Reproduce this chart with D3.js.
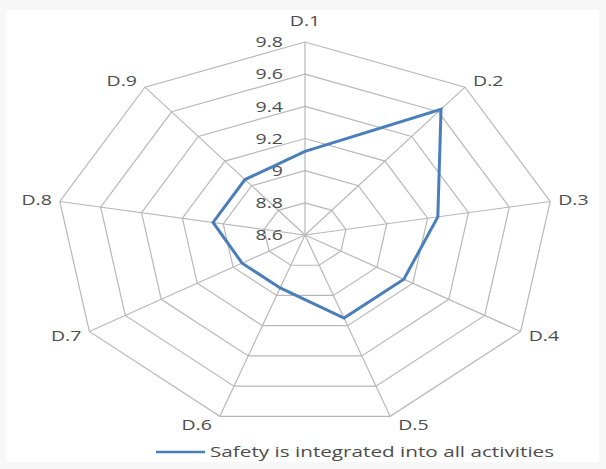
<!DOCTYPE html>
<html>
<head>
<meta charset="utf-8">
<script src="https://cdn.jsdelivr.net/npm/d3@7/dist/d3.min.js"></script>
<style>
  html, body { margin: 0; padding: 0; background: #f7f7f7; }
  svg { display: block; }
  text { font-family: "Open Sans", "DejaVu Sans", sans-serif; fill: #4d4d4d; }
</style>
</head>
<body>
<svg id="chart"></svg>
<script>
// data
const categories = ['D.1', 'D.2', 'D.3', 'D.4', 'D.5', 'D.6', 'D.7', 'D.8', 'D.9'];
const values = [9.12, 9.62, 9.25, 9.15, 9.15, 8.95, 8.95, 9.05, 9.05];
const ticks = [8.6, 8.8, 9.0, 9.2, 9.4, 9.6, 9.8];
const seriesName = 'Safety is integrated into all activities';

const width = 606, height = 469;
const cx = 305, cy = 235;
// the source image is stretched sideways, so the radar is an ellipse
const rx = 249, ry = 193;
const stretch = 1.3;

const svg = d3.select('#chart').attr('width', width).attr('height', height);

svg.append('rect')
  .attr('x', 6).attr('y', 10)
  .attr('width', 593).attr('height', 452)
  .attr('fill', '#fff');

const r = d3.scaleLinear().domain([8.6, 9.8]).range([0, 1]);
const angle = d3.scaleLinear().domain([0, categories.length]).range([0, 2 * Math.PI]);

function pt(i, v) {
  const a = angle(i), f = r(v);
  return [cx + rx * f * Math.sin(a), cy - ry * f * Math.cos(a)];
}

const line = d3.line().curve(d3.curveLinearClosed);

// rings
svg.append('g')
  .selectAll('path')
  .data(ticks.slice(1))
  .join('path')
  .attr('d', t => line(categories.map((c, i) => pt(i, t))))
  .attr('fill', 'none')
  .attr('stroke', '#b8b8b8')
  .attr('stroke-width', 1.2);

// spokes
svg.append('g')
  .selectAll('line')
  .data(categories)
  .join('line')
  .attr('x1', cx).attr('y1', cy)
  .attr('x2', (c, i) => pt(i, 9.8)[0])
  .attr('y2', (c, i) => pt(i, 9.8)[1])
  .attr('stroke', '#b8b8b8')
  .attr('stroke-width', 1.2);

// tick labels along D.1
svg.append('g')
  .selectAll('text')
  .data(ticks)
  .join('text')
  .attr('transform', t => `translate(${cx - 22},${pt(0, t)[1]}) scale(${stretch},1)`)
  .attr('text-anchor', 'end')
  .attr('dy', '0.35em')
  .style('font-size', '15px')
  .text(t => d3.format('~g')(t));

// series
svg.append('path')
  .attr('d', line(values.map((v, i) => pt(i, v))))
  .attr('fill', 'none')
  .attr('stroke', '#4a7ebb')
  .attr('stroke-width', 3)
  .attr('stroke-linejoin', 'miter');

// category labels
svg.append('g')
  .selectAll('text')
  .data(categories)
  .join('text')
  .each(function (c, i) {
    const [x, y] = pt(i, 9.8);
    const s = Math.sin(angle(i)), co = Math.cos(angle(i));
    let anchor = 'middle', tx = x, ty = y - 21;
    if (s > 0.1) { anchor = 'start'; tx = x + 8; ty = y - co * 9; }
    else if (s < -0.1) { anchor = 'end'; tx = x - 8; ty = y - co * 9; }
    d3.select(this)
      .attr('transform', `translate(${tx},${ty}) scale(${stretch},1)`)
      .attr('text-anchor', anchor);
  })
  .attr('dy', '0.35em')
  .style('font-size', '15px')
  .text(d => d);

// legend
const legend = svg.append('g').attr('transform', 'translate(156,452)');
legend.append('line')
  .attr('x1', 0).attr('x2', 49)
  .attr('stroke', '#4a7ebb')
  .attr('stroke-width', 2.5);
legend.append('text')
  .attr('transform', 'translate(54,0) scale(1.38,1)')
  .attr('dy', '0.35em')
  .style('font-size', '15px')
  .text(seriesName);
</script>
</body>
</html>
